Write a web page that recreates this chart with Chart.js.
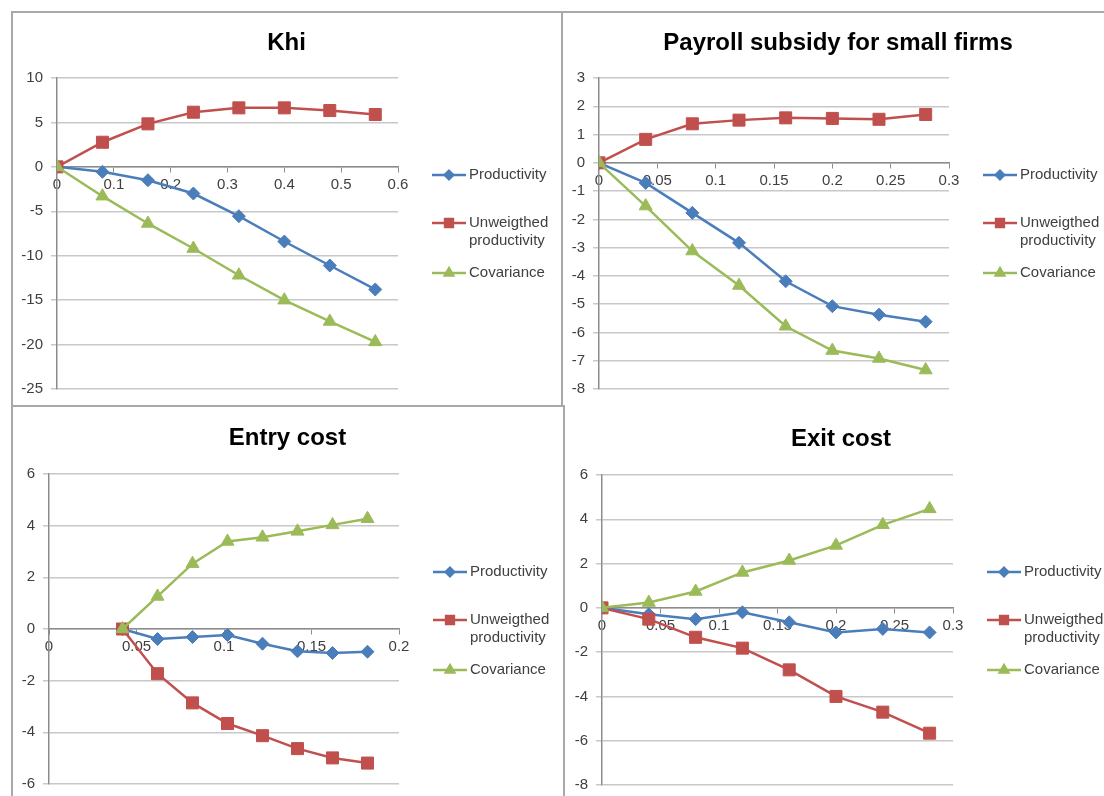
<!DOCTYPE html>
<html lang="en">
<head>
<meta charset="UTF-8">
<title>Policy effects on productivity</title>
<script src="https://cdn.jsdelivr.net/npm/chart.js@4/dist/chart.umd.min.js"></script>
<style>
  * { box-sizing: border-box; margin: 0; padding: 0; }
  body { width: 1104px; height: 796px; background: #fff; position: relative; overflow: hidden; }
  .panel { position: absolute; }
  .rule { position: absolute; background: #a8a8a8; }
</style>
</head>
<body>
  <!-- frame lines between the four panels -->
  <div class="rule" style="left:11px;top:11px;width:1093px;height:2px"></div>
  <div class="rule" style="left:11px;top:11px;width:2px;height:785px"></div>
  <div class="rule" style="left:561px;top:11px;width:2px;height:396px"></div>
  <div class="rule" style="left:11px;top:405px;width:552px;height:2px"></div>
  <div class="rule" style="left:563px;top:405px;width:2px;height:391px"></div>

  <div class="panel" style="left:11px;top:12px;width:551px;height:394px"><canvas id="c-khi"></canvas></div>
  <div class="panel" style="left:562px;top:12px;width:542px;height:394px"><canvas id="c-payroll"></canvas></div>
  <div class="panel" style="left:11px;top:406px;width:553px;height:390px"><canvas id="c-entry"></canvas></div>
  <div class="panel" style="left:564px;top:406px;width:540px;height:390px"><canvas id="c-exit"></canvas></div>

<script>
// ---- data ----
const khiX     = [0, 0.08, 0.16, 0.24, 0.32, 0.40, 0.48, 0.56];
const khiProd  = [0, -0.56, -1.5, -3.0, -5.55, -8.4, -11.1, -13.8];
const khiUnw   = [0, 2.77, 4.84, 6.15, 6.64, 6.64, 6.34, 5.89];
const khiCov   = [0, -3.3, -6.37, -9.19, -12.2, -15.0, -17.4, -19.7];

const payX     = [0, 0.04, 0.08, 0.12, 0.16, 0.20, 0.24, 0.28];
const payProd  = [0, -0.71, -1.77, -2.83, -4.19, -5.07, -5.37, -5.62];
const payUnw   = [0, 0.83, 1.38, 1.51, 1.59, 1.57, 1.54, 1.71];
const payCov   = [0, -1.53, -3.12, -4.34, -5.78, -6.64, -6.92, -7.33];

const entryX    = [0.042, 0.062, 0.082, 0.102, 0.122, 0.142, 0.162, 0.182];
const entryProd = [0, -0.39, -0.31, -0.23, -0.57, -0.86, -0.93, -0.88];
const entryUnw  = [0, -1.73, -2.86, -3.66, -4.13, -4.63, -4.99, -5.19];
const entryCov  = [0, 1.26, 2.53, 3.39, 3.55, 3.78, 4.03, 4.27];

const exitX    = [0, 0.04, 0.08, 0.12, 0.16, 0.20, 0.24, 0.28];
const exitProd = [0, -0.29, -0.51, -0.20, -0.65, -1.11, -0.95, -1.11];
const exitUnw  = [0, -0.51, -1.33, -1.82, -2.8, -4.0, -4.71, -5.66];
const exitCov  = [0, 0.24, 0.74, 1.6, 2.14, 2.82, 3.75, 4.47];

const SERIES = ['Productivity', 'Unweigthed productivity', 'Covariance'];
const COLORS = ['#4a7ebb', '#c0504d', '#9bbb59'];
const STYLES = ['rectRot', 'rect', 'triangle'];
const RADII  = [6.5, 8.5, 7.5];

const FONT = '"Liberation Sans Narrow", "Liberation Sans", Arial, sans-serif';
const TXT = '#404040';

// draws the panel title and the Excel-like legend
const panelDecor = {
  id: 'panelDecor',
  afterDraw(chart, _args, opts) {
    const ctx = chart.ctx;
    ctx.save();
    ctx.fillStyle = '#000';
    ctx.font = 'bold 24px ' + FONT;
    ctx.textAlign = 'center';
    ctx.textBaseline = 'middle';
    ctx.fillText(opts.title, chart.width / 2 + opts.titleDx, opts.titleY);

    const lx = chart.chartArea.right + 34;
    const rows = [
      { ds: 0, lines: ['Productivity'], dy: 0 },
      { ds: 1, lines: ['Unweigthed', 'productivity'], dy: 48 },
      { ds: 2, lines: ['Covariance'], dy: 98 },
    ];
    ctx.font = '15px ' + FONT;
    ctx.textAlign = 'left';
    for (const r of rows) {
      const y = opts.legendY + r.dy;
      ctx.strokeStyle = COLORS[r.ds];
      ctx.lineWidth = 2.5;
      ctx.beginPath();
      ctx.moveTo(lx, y);
      ctx.lineTo(lx + 34, y);
      ctx.stroke();
      ctx.fillStyle = COLORS[r.ds];
      Chart.helpers.drawPoint(ctx, { pointStyle: STYLES[r.ds], radius: RADII[r.ds] * 0.65, rotation: 0, borderWidth: 1 }, lx + 17, y);
      ctx.fillStyle = TXT;
      r.lines.forEach((t, i) => ctx.fillText(t, lx + 37, y + i * 18));
    }
    ctx.restore();
  }
};

function zeroPad(scale) {
  scale.paddingLeft = 0; scale.paddingRight = 0;
  scale.paddingTop = 0; scale.paddingBottom = 0;
}

function makePanel(id, title, xs, prod, unw, cov, xr, yr, box) {
  const datasets = [prod, unw, cov].map((vals, i) => ({
    label: SERIES[i],
    data: xs.map((x, j) => ({ x, y: vals[j] })),
    borderColor: COLORS[i],
    backgroundColor: COLORS[i],
    borderWidth: 2.5,
    pointStyle: STYLES[i],
    pointRadius: RADII[i],
    pointBorderWidth: 1,
    tension: 0,
    order: 2 - i,
  }));

  new Chart(document.getElementById(id), {
    type: 'line',
    data: { datasets },
    plugins: [panelDecor],
    options: {
      responsive: true,
      maintainAspectRatio: false,
      animation: false,
      layout: { padding: { left: 0, top: box.top, right: box.right, bottom: box.bottom } },
      plugins: {
        legend: { display: false },
        title: { display: false },
        tooltip: { enabled: false },
        panelDecor: { title, titleY: box.titleY, titleDx: box.titleDx, legendY: box.legendY },
      },
      scales: {
        x: {
          type: 'linear',
          position: { y: 0 },
          min: xr[0], max: xr[1],
          grid: { drawOnChartArea: false, drawTicks: true, tickLength: 5, color: '#8c8c8c' },
          border: { color: '#8c8c8c', width: 1.5 },
          ticks: {
            stepSize: xr[2], autoSkip: false, maxRotation: 0, padding: 4,
            color: TXT, font: { family: FONT, size: 15 },
            callback: v => String(+v.toFixed(2)),
          },
          afterFit: zeroPad,
        },
        y: {
          min: yr[0], max: yr[1],
          grid: { color: '#c8c8c8', lineWidth: 1.5, tickLength: 6 },
          border: { color: '#8c8c8c', width: 1.5 },
          ticks: { stepSize: yr[2], padding: 8, color: TXT, font: { family: FONT, size: 15 } },
          afterFit(scale) { scale.width = box.left; zeroPad(scale); },
        },
      },
    },
  });
}

makePanel('c-khi', 'Khi', khiX, khiProd, khiUnw, khiCov,
  [0, 0.6, 0.1], [-25, 10, 5],
  { left: 46, top: 66, right: 164, bottom: 17, titleY: 31, titleDx: 0, legendY: 163 });

makePanel('c-payroll', 'Payroll subsidy for small firms', payX, payProd, payUnw, payCov,
  [0, 0.3, 0.05], [-8, 3, 1],
  { left: 37, top: 66, right: 155, bottom: 17, titleY: 31, titleDx: 5, legendY: 163 });

makePanel('c-entry', 'Entry cost', entryX, entryProd, entryUnw, entryCov,
  [0, 0.2, 0.05], [-6, 6, 2],
  { left: 38, top: 68, right: 165, bottom: 12, titleY: 32, titleDx: 0, legendY: 166 });

makePanel('c-exit', 'Exit cost', exitX, exitProd, exitUnw, exitCov,
  [0, 0.3, 0.05], [-8, 6, 2],
  { left: 38, top: 69, right: 151, bottom: 11, titleY: 33, titleDx: 7, legendY: 166 });
</script>
</body>
</html>
